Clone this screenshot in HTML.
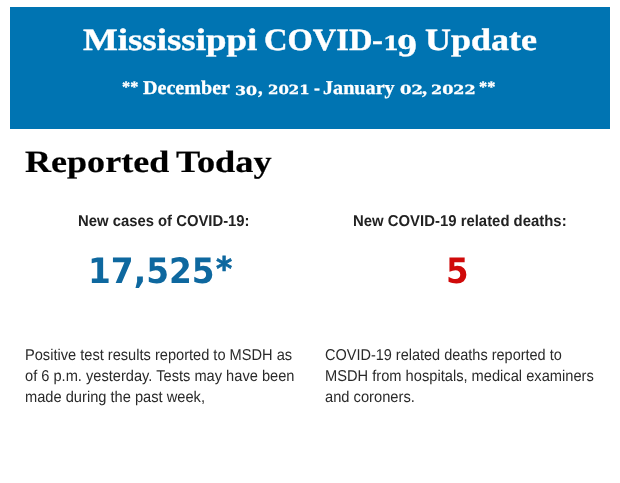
<!DOCTYPE html>
<html lang="en">
<head>
<meta charset="utf-8">
<title>Mississippi COVID-19 Update</title>
<style>
html,body{margin:0;padding:0;background:#fff;}
body{width:620px;height:483px;position:relative;overflow:hidden;text-rendering:geometricPrecision;font-family:"Liberation Sans",sans-serif;color:#222;}
h1,h2,h3,p{margin:0;padding:0;}
.ln{position:absolute;left:0;margin:0;white-space:nowrap;}
.ln span{display:inline-block;position:relative;transform-origin:0 0;white-space:nowrap;line-height:inherit;}
#banner{position:absolute;left:10px;top:7px;width:600px;height:121.5px;background:#0074b2;}
#title span{-webkit-text-stroke:0.4px currentColor;}
#title{top:20.00px;font-family:"Liberation Serif",serif;font-weight:bold;font-size:31px;line-height:40px;color:#fff;}
#sub span{-webkit-text-stroke:0.3px currentColor;}
#sub{top:76.00px;font-family:"Liberation Serif",serif;font-weight:bold;font-size:19.5px;line-height:26px;color:#fff;}
#h2 span{-webkit-text-stroke:0.2px currentColor;}
#h2{top:142.00px;font-family:"Liberation Serif",serif;font-weight:bold;font-size:31px;line-height:40px;color:#000;}
#lab1{top:212.00px;font-family:"Liberation Sans",sans-serif;font-weight:bold;font-size:15.7px;line-height:20px;color:#222;}
#lab2{top:212.00px;font-family:"Liberation Sans",sans-serif;font-weight:bold;font-size:15.7px;line-height:20px;color:#222;}
#num1{top:250.00px;font-family:"DejaVu Sans","Liberation Sans",sans-serif;font-weight:bold;font-size:35px;line-height:44px;color:#0e689f;}
#num2{top:250.00px;font-family:"DejaVu Sans","Liberation Sans",sans-serif;font-weight:bold;font-size:35px;line-height:44px;color:#d00a0a;}
#p1{top:345.00px;font-family:"Liberation Sans",sans-serif;font-weight:normal;font-size:15.7px;line-height:21px;color:#2a2a2a;}
#p2{top:345.00px;font-family:"Liberation Sans",sans-serif;font-weight:normal;font-size:15.7px;line-height:21px;color:#2a2a2a;}
</style>
</head>
<body>
<div id="banner"></div>
<h1 class="ln" id="title"><span style="left:83.10px;transform:scaleX(1.1890)">Mississippi</span> <span style="left:109.59px;transform:scaleX(1.0491)">COVID</span><span style="left:114.79px;transform:scaleX(1.0588)">-</span><span style="left:114.93px;transform:scaleX(1.2000);font-family:'DejaVu Serif','Liberation Serif',serif;font-size:19.2px">1</span><span style="left:115.48px;top:5.80px;transform:scaleX(1.0294);font-family:'DejaVu Serif','Liberation Serif',serif;font-size:28.5px">9</span> <span style="left:115.89px;transform:scaleX(1.1622)">Update</span></h1>
<h3 class="ln" id="sub"><span style="left:122.38px;top:-2.50px;transform:scaleX(1.0373);font-size:15.8px">**</span> <span style="left:122.17px;transform:scaleX(1.0298)">December</span> <span style="left:124.96px;top:0.60px;transform:scaleX(1.2554);font-family:'DejaVu Serif','Liberation Serif',serif;font-size:12.6px">30</span><span style="left:130.47px;transform:scaleX(0.9647)">,</span> <span style="left:130.33px;transform:scaleX(1.1880);font-family:'DejaVu Serif','Liberation Serif',serif;font-size:12.6px">2021</span> <span style="left:136.33px;transform:scaleX(0.9091)">-</span> <span style="left:134.63px;transform:scaleX(1.0336)">January</span> <span style="left:136.72px;transform:scaleX(1.3000);font-family:'DejaVu Serif','Liberation Serif',serif;font-size:12.6px">02</span><span style="left:142.04px;transform:scaleX(1.0353)">,</span> <span style="left:140.74px;transform:scaleX(1.2722);font-family:'DejaVu Serif','Liberation Serif',serif;font-size:12.6px">2022</span> <span style="left:149.13px;top:-2.50px;transform:scaleX(1.0373);font-size:15.8px">**</span></h3>
<h2 class="ln" id="h2"><span style="left:24.92px;transform:scaleX(1.1635)">Reported</span> <span style="left:44.28px;transform:scaleX(1.1728)">Today</span></h2>
<div class="ln" id="lab1"><span style="left:78.05px;transform:scaleX(0.9460)">New cases of COVID-19:</span></div>
<div class="ln" id="lab2"><span style="left:353.05px;transform:scaleX(0.9497)">New COVID-19 related deaths:</span></div>
<div class="ln" id="num1"><span style="left:88.25px;transform:scaleX(0.9377)">17,525</span><span style="left:81.00px;top:-3.30px;transform:scaleX(0.9515);font-size:32.5px;-webkit-text-stroke:0.7px currentColor">*</span></div>
<div class="ln" id="num2"><span style="left:445.84px;transform:scaleX(0.9299)">5</span></div>
<p class="ln" id="p1"><span style="left:24.74px;transform:scaleX(0.9312)">Positive test results reported to MSDH as</span><br><span style="left:24.90px;transform:scaleX(0.9326)">of 6 p.m. yesterday. Tests may have been</span><br><span style="left:24.87px;transform:scaleX(0.9340)">made during the past week,</span></p>
<p class="ln" id="p2"><span style="left:325.21px;transform:scaleX(0.9235)">COVID-19 related deaths reported to</span><br><span style="left:325.23px;transform:scaleX(0.9343)">MSDH from hospitals, medical examiners</span><br><span style="left:325.20px;transform:scaleX(0.9365)">and coroners.</span></p>
</body>
</html>
